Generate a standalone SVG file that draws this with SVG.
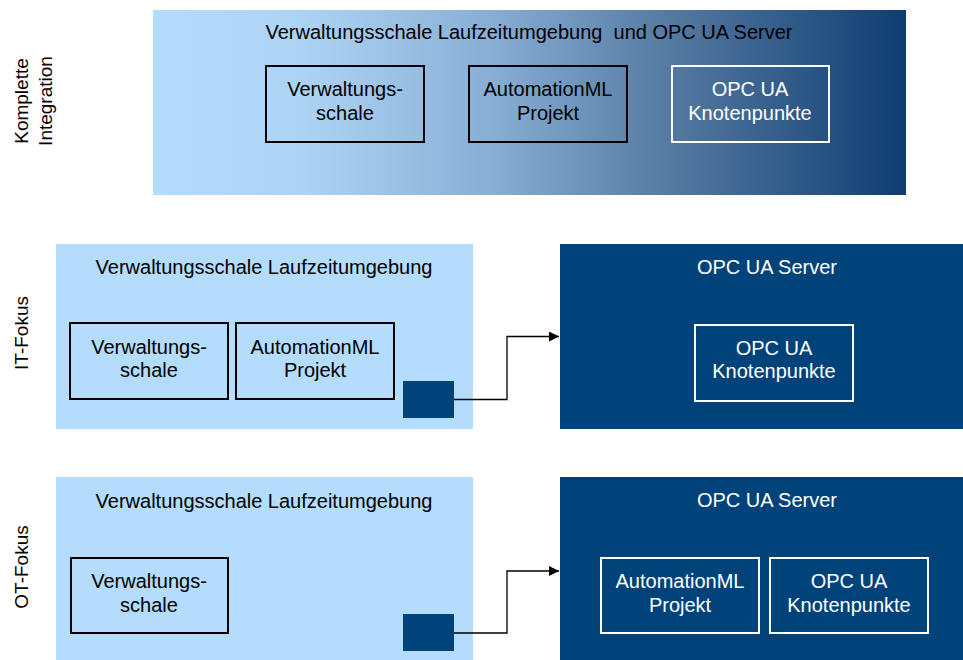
<svg xmlns="http://www.w3.org/2000/svg" width="963" height="660" viewBox="0 0 963 660">
  <defs>
    <linearGradient id="fade" x1="0" y1="0" x2="1" y2="0">
      <stop offset="0" stop-color="#b4dcfd"/>
      <stop offset="0.2" stop-color="#add3f4"/>
      <stop offset="0.45" stop-color="#88aed4"/>
      <stop offset="0.7" stop-color="#52779f"/>
      <stop offset="1" stop-color="#0e3c72"/>
    </linearGradient>
    <marker id="arrow" viewBox="0 0 10 10" refX="10" refY="5" markerWidth="10" markerHeight="10" markerUnits="userSpaceOnUse" orient="auto">
      <path d="M0,0 L10,5 L0,10 z" fill="#000"/>
    </marker>
  </defs>
  <style>
    text { font-family: "Liberation Sans", Arial, sans-serif; font-size: 20px; text-anchor: middle; white-space: pre; }
    .side { font-size: 19px; }
    .dk { fill: #000; }
    .wt { fill: #fff; }
    .light { fill: #b4dcfd; }
    .dark { fill: #00437b; }
    .boxb { fill: none; stroke: #000; stroke-width: 2; }
    .boxw { fill: none; stroke: #fff; stroke-width: 2; }
    .conn { fill: none; stroke: #000; stroke-width: 1.3; }
  </style>

  <!-- row labels -->
  <g id="label-komplette">
    <text class="dk side" transform="translate(28,101) rotate(-90)">Komplette</text>
    <text class="dk side" transform="translate(52,101) rotate(-90)">Integration</text>
  </g>
  <g id="label-it">
    <text class="dk side" transform="translate(28,333) rotate(-90)">IT-Fokus</text>
  </g>
  <g id="label-ot">
    <text class="dk side" transform="translate(28,567) rotate(-90)">OT-Fokus</text>
  </g>

  <!-- complete integration -->
  <g id="integrated">
    <rect x="153" y="10" width="753" height="185" fill="url(#fade)"/>
    <text class="dk" x="529" y="39" xml:space="preserve">Verwaltungsschale Laufzeitumgebung  und OPC UA Server</text>
  </g>
  <g id="int-aas">
    <rect class="boxb" x="266" y="66" width="158" height="76"/>
    <text class="dk" x="345" y="96">Verwaltungs-</text>
    <text class="dk" x="345" y="120">schale</text>
  </g>
  <g id="int-aml">
    <rect class="boxb" x="469" y="66" width="158" height="76"/>
    <text class="dk" x="548" y="96">AutomationML</text>
    <text class="dk" x="548" y="120">Projekt</text>
  </g>
  <g id="int-nodes">
    <rect class="boxw" x="672" y="66" width="157" height="76"/>
    <text class="wt" x="750" y="96">OPC UA</text>
    <text class="wt" x="750" y="120">Knotenpunkte</text>
  </g>

  <!-- IT focus -->
  <g id="it-runtime">
    <rect class="light" x="56" y="244" width="417" height="185"/>
    <text class="dk" x="264" y="274">Verwaltungsschale Laufzeitumgebung</text>
  </g>
  <g id="it-aas">
    <rect class="boxb" x="70" y="323" width="158" height="76"/>
    <text class="dk" x="149" y="354">Verwaltungs-</text>
    <text class="dk" x="149" y="377">schale</text>
  </g>
  <g id="it-aml">
    <rect class="boxb" x="236" y="323" width="158" height="76"/>
    <text class="dk" x="315" y="354">AutomationML</text>
    <text class="dk" x="315" y="377">Projekt</text>
  </g>
  <g id="it-port">
    <rect class="dark" x="403" y="381" width="51" height="37"/>
  </g>
  <g id="it-server">
    <rect class="dark" x="560" y="244" width="403" height="185"/>
    <text class="wt" x="767" y="274">OPC UA Server</text>
  </g>
  <g id="it-nodes">
    <rect class="boxw" x="695" y="325" width="158" height="76"/>
    <text class="wt" x="774" y="355">OPC UA</text>
    <text class="wt" x="774" y="378">Knotenpunkte</text>
  </g>

  <!-- OT focus -->
  <g id="ot-runtime">
    <rect class="light" x="56" y="477" width="417" height="183"/>
    <text class="dk" x="264" y="508">Verwaltungsschale Laufzeitumgebung</text>
  </g>
  <g id="ot-aas">
    <rect class="boxb" x="71" y="558" width="157" height="75"/>
    <text class="dk" x="149" y="588">Verwaltungs-</text>
    <text class="dk" x="149" y="612">schale</text>
  </g>
  <g id="ot-port">
    <rect class="dark" x="403" y="614" width="51" height="37"/>
  </g>
  <g id="ot-server">
    <rect class="dark" x="560" y="477" width="403" height="183"/>
    <text class="wt" x="767" y="507">OPC UA Server</text>
  </g>
  <g id="ot-aml">
    <rect class="boxw" x="601" y="558" width="158" height="75"/>
    <text class="wt" x="680" y="588">AutomationML</text>
    <text class="wt" x="680" y="612">Projekt</text>
  </g>
  <g id="ot-nodes">
    <rect class="boxw" x="770" y="558" width="158" height="75"/>
    <text class="wt" x="849" y="588">OPC UA</text>
    <text class="wt" x="849" y="612">Knotenpunkte</text>
  </g>

  <!-- connectors -->
  <g id="connectors">
    <path class="conn" d="M454,399.5 H507 V336.5 H559" marker-end="url(#arrow)"/>
    <path class="conn" d="M454,633 H507 V571 H559" marker-end="url(#arrow)"/>
  </g>
</svg>
